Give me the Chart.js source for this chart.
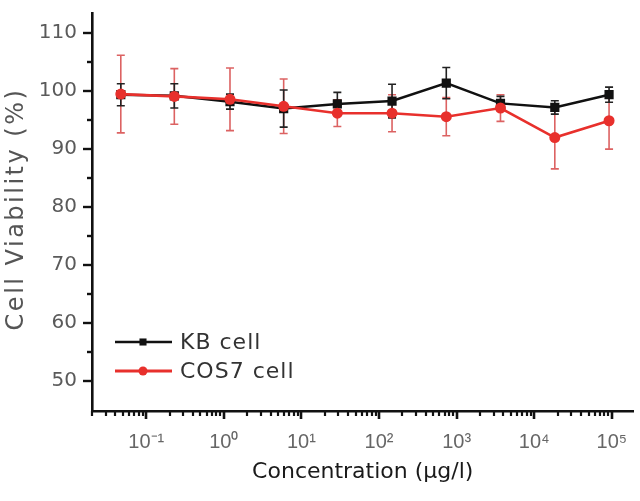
<!DOCTYPE html>
<html>
<head>
<meta charset="utf-8">
<script src="https://cdn.jsdelivr.net/npm/chart.js@4.4.1/dist/chart.umd.min.js"></script>
<style>
  html, body { margin: 0; padding: 0; background: #fff; }
  canvas { display: block; }
</style>
</head>
<body>
<canvas id="viabilityChart" width="640" height="501"></canvas>
<script>
// concentration (ug/l)
const concentrations = [0.047, 0.23, 1.2, 5.9, 29, 147, 735, 3670, 18400, 92000];

const kbLabel = "KB cell";
const kbMean = [99.4, 99.2, 98.2, 97.0, 97.8, 98.3, 101.4, 97.9, 97.2, 99.4];
const kbErr = [1.9, 2.1, 1.3, 3.2, 2.0, 2.9, 2.7, 1.2, 1.15, 1.3];

const cosLabel = "COS7 cell";
const cosMean = [99.5, 99.1, 98.6, 97.4, 96.2, 96.2, 95.6, 97.1, 92.0, 94.9];
const cosErr = [6.7, 4.8, 5.4, 4.7, 2.3, 3.2, 3.3, 2.3, 5.4, 4.9];

const yTickValues = [50, 55, 60, 65, 70, 75, 80, 85, 90, 95, 100, 105, 110];
const xDecades = [-2, -1, 0, 1, 2, 3, 4, 5];
const yTitle = "Cell Viability (%)";
const xTitle = "Concentration (\u03BCg/l)";

const FONT = "'Liberation Sans', Arial, sans-serif";
const WIDE = "'DejaVu Sans', sans-serif";
const KB_COLOR = "#111111";
const COS_COLOR = "#e8302c";
const SUP = { "-": "\u207B", "0": "\u2070", "1": "\u00B9", "2": "\u00B2", "3": "\u00B3", "4": "\u2074", "5": "\u2075" };

function toPoints(xs, ys) {
    return xs.map((x, i) => ({ x: x, y: ys[i] }));
}

function powerLabel(v) {
    const e = Math.round(Math.log10(v));
    if (Math.abs(Math.log10(v) - e) > 1e-6) return "";
    return "10" + String(e).split("").map(c => SUP[c]).join("");
}

// error bars drawn under the lines
const errorBars = {
    id: "errorBars",
    beforeDatasetsDraw(chart) {
        const ctx = chart.ctx;
        const xs = chart.scales.x, ys = chart.scales.y;
        const sets = [
            { mean: cosMean, err: cosErr, color: "rgba(214,70,70,0.85)" },
            { mean: kbMean, err: kbErr, color: "#222" }
        ];
        ctx.save();
        sets.forEach(s => {
            ctx.strokeStyle = s.color;
            ctx.lineWidth = 1.6;
            concentrations.forEach((c, i) => {
                const px = xs.getPixelForValue(c);
                const top = ys.getPixelForValue(s.mean[i] + s.err[i]);
                const bot = ys.getPixelForValue(s.mean[i] - s.err[i]);
                ctx.beginPath();
                ctx.moveTo(px, top); ctx.lineTo(px, bot);
                ctx.moveTo(px - 4, top); ctx.lineTo(px + 4, top);
                ctx.moveTo(px - 4, bot); ctx.lineTo(px + 4, bot);
                ctx.stroke();
            });
        });
        ctx.restore();
    }
};

// tick marks outside the axes, major longer than minor; y title with wide spacing
const axisExtras = {
    id: "axisExtras",
    afterDraw(chart) {
        const ctx = chart.ctx;
        const xs = chart.scales.x, ys = chart.scales.y;
        const area = chart.chartArea;
        ctx.save();
        ctx.strokeStyle = "#111";
        xs.ticks.forEach(t => {
            const px = Math.round(xs.getPixelForValue(t.value));
            const major = powerLabel(t.value) !== "";
            ctx.lineWidth = major ? 2.6 : 2.2;
            ctx.beginPath();
            ctx.moveTo(px, area.bottom);
            ctx.lineTo(px, area.bottom + (major ? 8 : 5));
            ctx.stroke();
        });
        ys.ticks.forEach(t => {
            const py = Math.round(ys.getPixelForValue(t.value));
            const major = t.value % 10 === 0;
            ctx.lineWidth = 2.4;
            ctx.beginPath();
            ctx.moveTo(area.left, py);
            ctx.lineTo(area.left - (major ? 9 : 5), py);
            ctx.stroke();
        });

        ctx.translate(17, 209);
        ctx.rotate(-Math.PI / 2);
        ctx.font = "24px " + WIDE;
        ctx.letterSpacing = "2.5px";
        ctx.fillStyle = "#555";
        ctx.textAlign = "center";
        ctx.textBaseline = "middle";
        ctx.fillText(yTitle, 0, 0);
        ctx.restore();
    }
};

const insideLegend = {
    id: "insideLegend",
    afterDraw(chart) {
        const ctx = chart.ctx;
        const rows = [
            { label: kbLabel, color: KB_COLOR, style: "rect", y: 342 },
            { label: cosLabel, color: COS_COLOR, style: "circle", y: 371 }
        ];
        ctx.save();
        rows.forEach(r => {
            ctx.strokeStyle = r.color;
            ctx.lineWidth = r.style === "circle" ? 3 : 2.4;
            ctx.beginPath();
            ctx.moveTo(115, r.y); ctx.lineTo(172, r.y);
            ctx.stroke();
            ctx.fillStyle = r.color;
            Chart.helpers.drawPoint(ctx, { pointStyle: r.style, radius: r.style === "circle" ? 4.5 : 5, borderWidth: 0 }, 143, r.y);
            ctx.fillStyle = "#333";
            ctx.font = "22px " + WIDE;
            ctx.letterSpacing = "1px";
            ctx.textBaseline = "middle";
            ctx.fillText(r.label, 180, r.y + 1);
        });
        ctx.restore();
    }
};

new Chart(document.getElementById("viabilityChart"), {
    type: "line",
    data: {
        datasets: [
            {
                label: kbLabel,
                data: toPoints(concentrations, kbMean),
                borderColor: KB_COLOR,
                backgroundColor: KB_COLOR,
                borderWidth: 2.5,
                pointStyle: "rect",
                pointRadius: 6.5,
                pointBorderWidth: 0,
                tension: 0,
                order: 1
            },
            {
                label: cosLabel,
                data: toPoints(concentrations, cosMean),
                borderColor: COS_COLOR,
                backgroundColor: COS_COLOR,
                borderWidth: 2.6,
                pointStyle: "circle",
                pointRadius: 5.5,
                pointBorderWidth: 0,
                tension: 0,
                order: 0
            }
        ]
    },
    options: {
        responsive: false,
        animation: false,
        devicePixelRatio: 1,
        layout: { padding: { top: 13, right: 5, left: 0, bottom: 0 } },
        plugins: { legend: { display: false }, tooltip: { enabled: false } },
        scales: {
            x: {
                type: "logarithmic",
                min: 0.02,
                max: 190000,
                border: { display: true, color: "#111", width: 2.6 },
                grid: { display: false, drawTicks: false },
                afterBuildTicks: scale => {
                    const ticks = [];
                    xDecades.forEach(d => {
                        for (let m = 1; m <= 9; m++) {
                            const v = m * Math.pow(10, d);
                            if (v >= scale.min && v <= scale.max) ticks.push({ value: v });
                        }
                    });
                    scale.ticks = ticks;
                },
                afterFit: scale => {
                    scale.height = 90;
                    scale.paddingLeft = 0;
                    scale.paddingRight = 0;
                },
                ticks: {
                    autoSkip: false,
                    maxRotation: 0,
                    padding: 19,
                    color: "#666",
                    font: { family: FONT, size: 20 },
                    callback: v => powerLabel(v)
                },
                title: {
                    display: true,
                    text: xTitle,
                    color: "#1a1a1a",
                    font: { family: WIDE, size: 22 },
                    padding: { top: 0, bottom: 16 }
                }
            },
            y: {
                min: 44.8,
                max: 113.5,
                border: { display: true, color: "#111", width: 2.6 },
                grid: { display: false, drawTicks: false },
                afterBuildTicks: scale => {
                    scale.ticks = yTickValues.map(v => ({ value: v }));
                },
                afterFit: scale => {
                    scale.width = 92;
                    scale.paddingTop = 0;
                    scale.paddingBottom = 0;
                },
                ticks: {
                    padding: 15,
                    color: "#5a5a5a",
                    font: { family: WIDE, size: 20 },
                    callback: v => (v % 10 === 0 ? v : "")
                },
                title: { display: false }
            }
        }
    },
    plugins: [errorBars, axisExtras, insideLegend]
});
</script>
</body>
</html>
